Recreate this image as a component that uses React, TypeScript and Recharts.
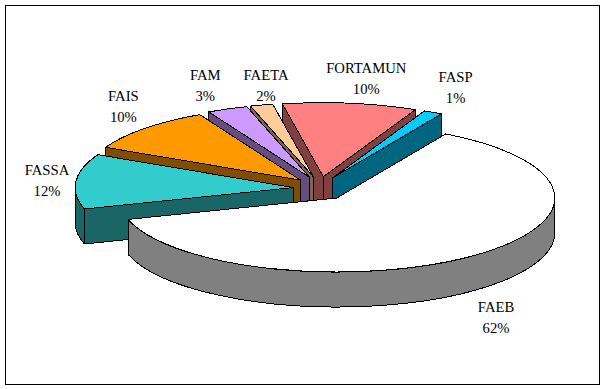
import React from "react";
import { PieChart, Pie, Cell } from "recharts";

// Drawn back to front, counter-clockwise from the back right
const names = ["FASP", "FORTAMUN", "FAETA", "FAM", "FAIS", "FASSA", "FAEB"];
const shares = [1.39, 9.94, 1.67, 3, 10, 12, 62];
const topColors = ["#00CCFF", "#FF8080", "#FFCC99", "#CC99FF", "#FF9900", "#33CCCC", "#FFFFFF"];
const sideColors = ["#006680", "#804040", "#80664D", "#664D80", "#804D00", "#1A6666", "#808080"];
// label nudges from the polar anchor, in px
const labelNudgeX = [4, 11, 14, -7, 7, 11, -1];
const labelNudgeY = [-1, 2, 6, 1, -3, 2, 0];

const tableRows = names.map((name, i) => ({ name, value: shares[i], side: sideColors[i] }));

const RATIO = 74 / 218;
const DEPTH = 35;
const EXPLODE_X = 27;
const EXPLODE_Y = 12;
const RAD = Math.PI / 180;
// This slice's cut faces sit behind its neighbours, so they go in the underlay
const UNDERLAY_SLICE = "FORTAMUN";

function Slice3D(props: any) {
  const { cx, cy, outerRadius, startAngle, endAngle, fill, payload, underlay } = props;
  const name = payload?.name ?? props.name;
  const lo = Math.min(startAngle, endAngle);
  const hi = Math.max(startAngle, endAngle);
  const mid = ((lo + hi) / 2) * RAD;
  const rx = outerRadius;
  const ry = outerRadius * RATIO;
  const ax = cx + EXPLODE_X * Math.cos(mid);
  const ay = cy - EXPLODE_Y * Math.sin(mid);
  const pt = (deg: number) => [ax + rx * Math.cos(deg * RAD), ay - ry * Math.sin(deg * RAD)];
  const side = payload?.side ?? props.side;
  const common = { stroke: "#000", strokeWidth: 1, strokeLinejoin: "round" as const, shapeRendering: "crispEdges" as const };

  const radial = (deg: number, depth = DEPTH) => {
    const p = pt(deg);
    return `M${ax},${ay} L${p[0]},${p[1]} L${p[0]},${p[1] + depth} L${ax},${ay + depth} Z`;
  };
  const isUnderlaySlice = name === UNDERLAY_SLICE;
  if (underlay) {
    if (!isUnderlaySlice) return <g />;
    return (
      <g>
        <path d={radial(lo)} fill={side} {...common} />
        {/* extra depth fills the notch under the apex; later slices cover the rest */}
        <path d={radial(hi, DEPTH * 2)} fill={side} {...common} />
      </g>
    );
  }
  // Lower half of the rim is the part that faces the viewer
  const walls: string[] = [];
  for (const [a, b] of [[180, 360], [540, 720]]) {
    const s = Math.max(lo, a);
    const e = Math.min(hi, b);
    if (e > s) {
      const p1 = pt(s);
      const p2 = pt(e);
      walls.push(
        `M${p1[0]},${p1[1]} A${rx},${ry} 0 0 0 ${p2[0]},${p2[1]} L${p2[0]},${p2[1] + DEPTH} A${rx},${ry} 0 0 1 ${p1[0]},${p1[1] + DEPTH} Z`
      );
    }
  }
  const pLo = pt(lo);
  const pHi = pt(hi);
  const top = `M${ax},${ay} L${pLo[0]},${pLo[1]} A${rx},${ry} 0 ${hi - lo > 180 ? 1 : 0} 0 ${pHi[0]},${pHi[1]} Z`;
  return (
    <g>
      {Math.cos(lo * RAD) > 0 && !isUnderlaySlice && <path d={radial(lo)} fill={side} {...common} />}
      {Math.cos(hi * RAD) < 0 && !isUnderlaySlice && <path d={radial(hi)} fill={side} {...common} />}
      {walls.map((d, i) => (
        <path key={i} d={d} fill={side} {...common} />
      ))}
      <path d={top} fill={fill} {...common} />
    </g>
  );
}

function SliceLabel(props: any) {
  const { cx, cy, midAngle, name, percent, index } = props;
  const m = midAngle * RAD;
  const x = cx + 285 * Math.cos(m) + labelNudgeX[index];
  const sinM = Math.sin(m);
  const y = cy - (sinM > 0 ? 112 : 165) * sinM + labelNudgeY[index];
  return (
    <text x={x} y={y} textAnchor="middle" fontFamily="'Liberation Serif', serif" fontSize={14.67} fill="#000">
      <tspan x={x} dy={-6}>{name}</tspan>
      <tspan x={x} dy={21}>{Math.round(percent * 100)}%</tspan>
    </text>
  );
}

const pieGeometry = {
  dataKey: "value",
  nameKey: "name",
  cx: 320,
  cy: 188.6,
  innerRadius: 0,
  outerRadius: 218,
  startAngle: 60,
  endAngle: 420,
  paddingAngle: 0,
  isAnimationActive: false,
};

export default function App() {
  return (
    <div style={{ position: "absolute", left: 0, top: 0, width: 605, height: 389, background: "#fff" }}>
      <div style={{ position: "absolute", left: 5, top: 5, width: 593, height: 378, border: "1px solid #000" }} />
      <div style={{ position: "absolute", left: 0, top: 0 }}>
        <PieChart width={605} height={389} margin={{ top: 0, right: 0, bottom: 0, left: 0 }}>
          <Pie {...pieGeometry} data={tableRows} shape={(p: any) => <Slice3D {...p} underlay />} label={false} labelLine={false} />
          <Pie {...pieGeometry} data={tableRows} shape={(p: any) => <Slice3D {...p} />} label={SliceLabel} labelLine={false}>
            {tableRows.map((r, i) => (
              <Cell key={r.name} fill={topColors[i]} />
            ))}
          </Pie>
        </PieChart>
      </div>
    </div>
  );
}
